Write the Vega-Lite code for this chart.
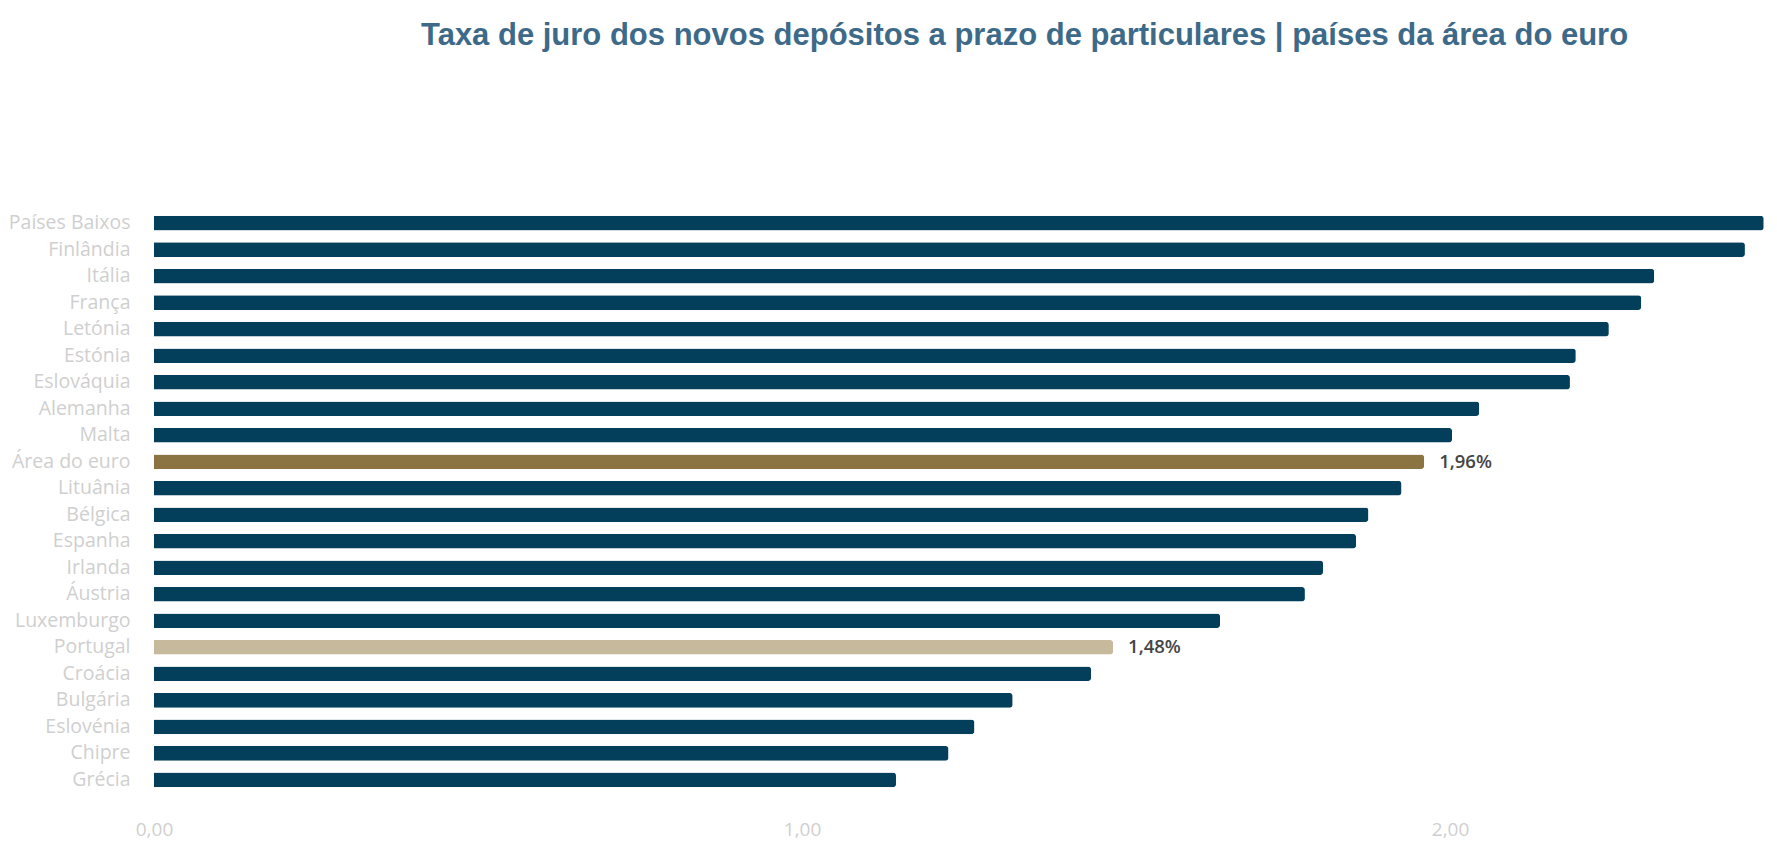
{
  "$schema": "https://vega.github.io/schema/vega-lite/v6.json",
  "autosize": "none",
  "width": 1611,
  "height": 583,
  "padding": {"left": 154, "top": 210, "right": 12, "bottom": 63},
  "background": "white",
  "config": {
    "view": {"stroke": null},
    "locale": {"number": {"decimal": ",", "thousands": ".", "grouping": [3], "currency": ["", " €"]}}
  },
  "title": {
    "text": "Taxa de juro dos novos depósitos a prazo de particulares | países da área do euro",
    "anchor": "start",
    "frame": "group",
    "dx": 267,
    "offset": 158,
    "font": "Liberation Sans",
    "fontSize": 31,
    "fontWeight": "bold",
    "color": "#3d6a89"
  },
  "data": {
    "values": [
      {"pais": "Países Baixos", "taxa": 2.484, "grupo": "país", "rotulo": ""},
      {"pais": "Finlândia", "taxa": 2.455, "grupo": "país", "rotulo": ""},
      {"pais": "Itália", "taxa": 2.315, "grupo": "país", "rotulo": ""},
      {"pais": "França", "taxa": 2.295, "grupo": "país", "rotulo": ""},
      {"pais": "Letónia", "taxa": 2.245, "grupo": "país", "rotulo": ""},
      {"pais": "Estónia", "taxa": 2.194, "grupo": "país", "rotulo": ""},
      {"pais": "Eslováquia", "taxa": 2.185, "grupo": "país", "rotulo": ""},
      {"pais": "Alemanha", "taxa": 2.045, "grupo": "país", "rotulo": ""},
      {"pais": "Malta", "taxa": 2.003, "grupo": "país", "rotulo": ""},
      {"pais": "Área do euro", "taxa": 1.96, "grupo": "euro", "rotulo": "1,96%"},
      {"pais": "Lituânia", "taxa": 1.925, "grupo": "país", "rotulo": ""},
      {"pais": "Bélgica", "taxa": 1.874, "grupo": "país", "rotulo": ""},
      {"pais": "Espanha", "taxa": 1.855, "grupo": "país", "rotulo": ""},
      {"pais": "Irlanda", "taxa": 1.804, "grupo": "país", "rotulo": ""},
      {"pais": "Áustria", "taxa": 1.776, "grupo": "país", "rotulo": ""},
      {"pais": "Luxemburgo", "taxa": 1.645, "grupo": "país", "rotulo": ""},
      {"pais": "Portugal", "taxa": 1.48, "grupo": "pt", "rotulo": "1,48%"},
      {"pais": "Croácia", "taxa": 1.446, "grupo": "país", "rotulo": ""},
      {"pais": "Bulgária", "taxa": 1.325, "grupo": "país", "rotulo": ""},
      {"pais": "Eslovénia", "taxa": 1.266, "grupo": "país", "rotulo": ""},
      {"pais": "Chipre", "taxa": 1.226, "grupo": "país", "rotulo": ""},
      {"pais": "Grécia", "taxa": 1.145, "grupo": "país", "rotulo": ""}
    ]
  },
  "encoding": {
    "y": {
      "field": "pais",
      "type": "nominal",
      "sort": {"field": "taxa", "order": "descending"},
      "title": null,
      "scale": {"paddingInner": 0.45, "paddingOuter": 0.22},
      "axis": {
        "domain": false,
        "ticks": false,
        "labelPadding": 24,
        "labelFont": "Open Sans",
        "labelFontSize": 19.5,
        "labelColor": "#cfcfcf"
      }
    },
    "x": {
      "field": "taxa",
      "type": "quantitative",
      "title": null,
      "scale": {"domain": [0, 2.486], "nice": false},
      "axis": {
        "values": [0, 1, 2],
        "format": ".2f",
        "grid": false,
        "domain": false,
        "ticks": false,
        "labelFlush": false,
        "labelPadding": 27,
        "labelFont": "Open Sans",
        "labelFontSize": 19,
        "labelColor": "#cfcfcf"
      }
    }
  },
  "layer": [
    {
      "mark": {"type": "bar", "cornerRadiusEnd": 3},
      "encoding": {
        "color": {
          "field": "grupo",
          "type": "nominal",
          "scale": {"domain": ["país", "euro", "pt"], "range": ["#033f5b", "#8c7342", "#c6b99c"]},
          "legend": null
        }
      }
    },
    {
      "mark": {"type": "text", "align": "left", "dx": 15, "font": "Open Sans", "fontSize": 18.5, "fontWeight": 600, "color": "#454545"},
      "encoding": {"text": {"field": "rotulo"}}
    }
  ]
}
